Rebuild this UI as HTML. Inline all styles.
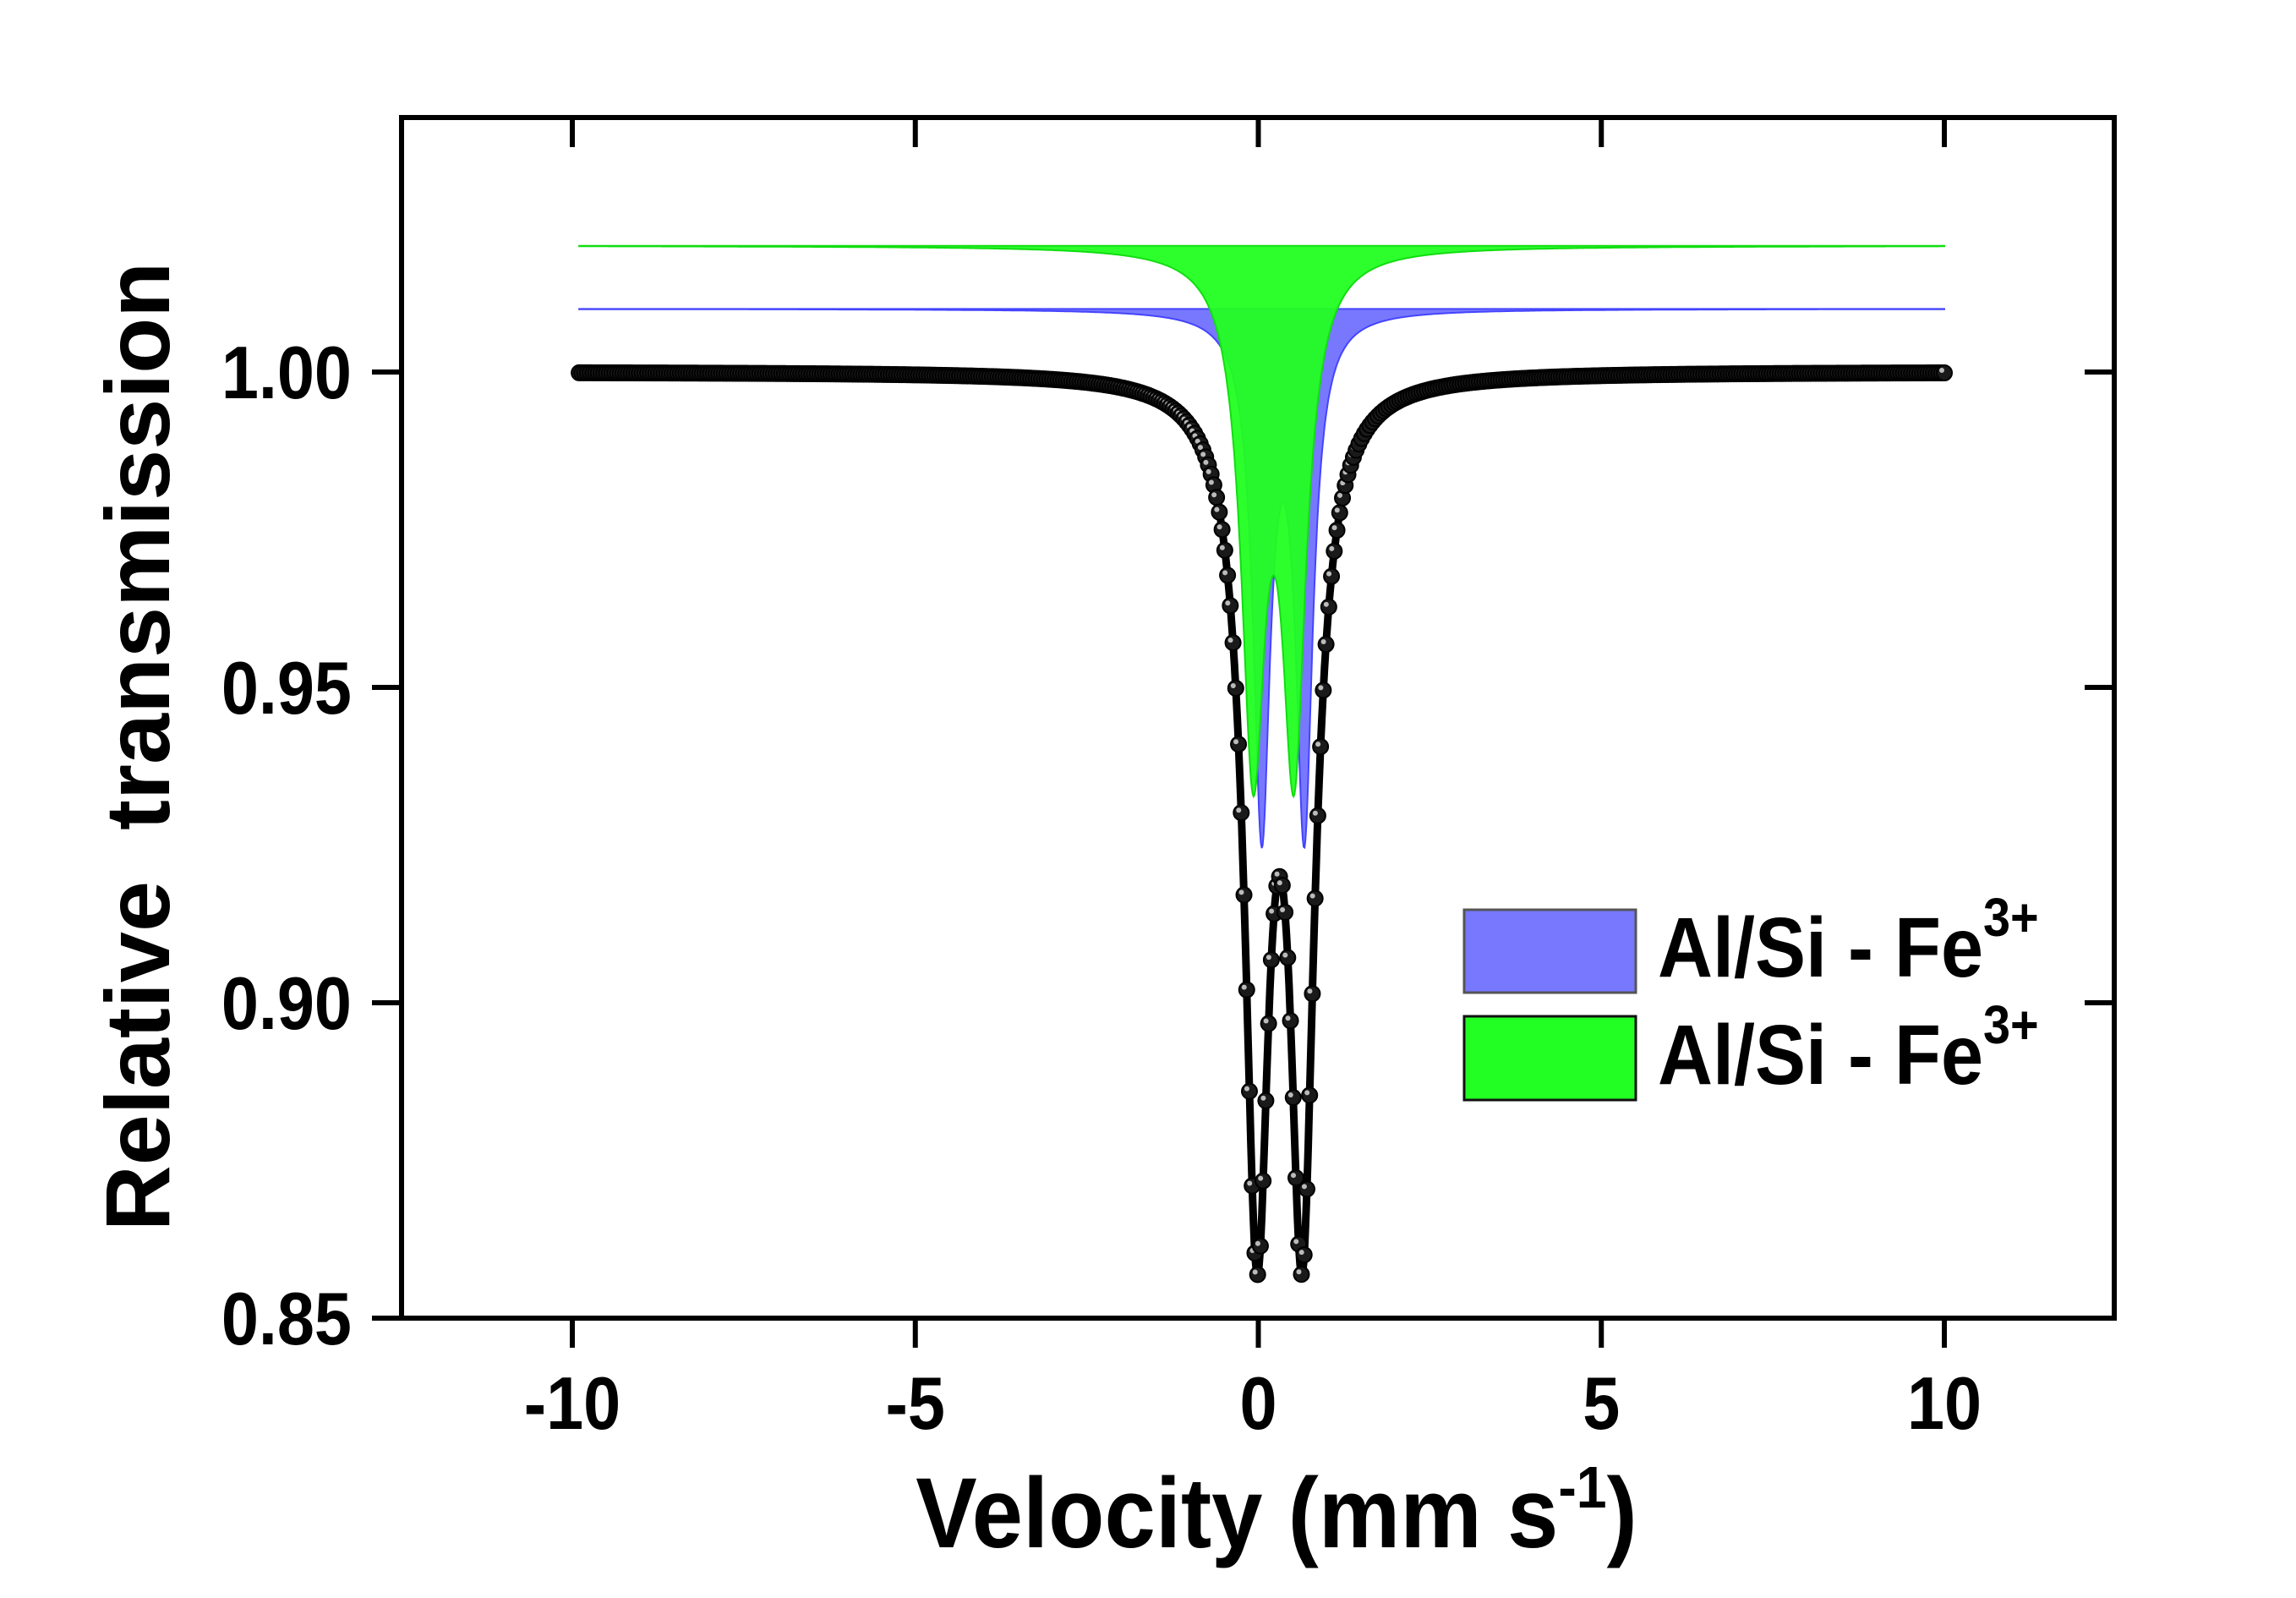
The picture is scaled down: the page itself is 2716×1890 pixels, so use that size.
<!DOCTYPE html>
<html><head><meta charset="utf-8"><style>
html,body{margin:0;padding:0;background:#fff;}
svg{display:block;}
text{font-family:"Liberation Sans",sans-serif;font-weight:bold;fill:#000;}
</style></head><body>
<svg id="chart" width="2716" height="1890" viewBox="0 0 2716 1890" xmlns="http://www.w3.org/2000/svg">
<g id="subspectra"></g>
<g id="fitg"></g>
<rect x="475" y="139" width="2026" height="1420" fill="none" stroke="#000" stroke-width="6"/>
<g id="axes"></g>
<text x="1510" y="1830" font-size="118" text-anchor="middle" transform="translate(1510 0) scale(0.92 1) translate(-1510 0)">Velocity (mm s<tspan dy="-47" font-size="70">-1</tspan><tspan dy="47">)</tspan></text>
<text x="0" y="0" font-size="108" text-anchor="middle" transform="translate(200 883) rotate(-90)" xml:space="preserve">Relative  transmission</text>
<g>
<rect x="1732" y="1076" width="203" height="98" fill="#7878ff" stroke="#555" stroke-width="3"/>
<text x="1961" y="1155" font-size="100" transform="translate(1961 0) scale(0.9 1) translate(-1961 0)">Al/Si - Fe<tspan dy="-48" font-size="64">3+</tspan></text>
<rect x="1732" y="1202" width="203" height="99" fill="#22ff22" stroke="#111" stroke-width="3"/>
<text x="1961" y="1282" font-size="100" transform="translate(1961 0) scale(0.9 1) translate(-1961 0)">Al/Si - Fe<tspan dy="-48" font-size="64">3+</tspan></text>
</g>
</svg>
<script>
const xTicks=[-10,-5,0,5,10];
const yTicks=[0.85,0.90,0.95,1.00];
const yTickLabels=["0.85","0.90","0.95","1.00"];
const fitCenters=[-0.02,0.64];
const fitDepths=[0.13,0.13];
const fitHwhm=[0.22,0.22];
const greenBase=1.02, greenCenters=[-0.075,0.52], greenDepths=[0.0785,0.0785], greenHwhm=[0.21,0.21];
const blueBase=1.01, blueCenters=[0.05,0.67], blueDepths=[0.081,0.081], blueHwhm=[0.15,0.15];
const vMin=-9.9, vMax=10.0, nChannels=500;

const NS="http://www.w3.org/2000/svg";
const X=v=>1488.5+v*81.15;
const Y=t=>440+(1.0-t)*7460;
function lor(v,c,d,w){let s=0;for(let i=0;i<c.length;i++){const u=(v-c[i])/w[i];s+=d[i]/(1+u*u);}return s;}
function mk(tag,attrs,parent){const e=document.createElementNS(NS,tag);for(const k in attrs)e.setAttribute(k,attrs[k]);parent.appendChild(e);return e;}
const sub=document.getElementById('subspectra');
function area(base,c,d,w,fill,stroke){
  let p=`M${X(vMin)},${Y(base)}`;
  for(let i=0;i<=1500;i++){const v=vMin+(vMax-vMin)*i/1500;p+=` L${X(v).toFixed(1)},${Y(base-lor(v,c,d,w)).toFixed(1)}`;}
  p+=` L${X(vMax)},${Y(base)} Z`;
  return mk('path',{d:p,fill:fill,stroke:stroke,'stroke-width':2},sub);
}
const b=area(blueBase,blueCenters,blueDepths,blueHwhm,'#7878ff','#4444ff');


const g=area(greenBase,greenCenters,greenDepths,greenHwhm,'#22ff22','#11dd11');


g.setAttribute('fill-opacity','0.95');

const fg=document.getElementById('fitg');
let fp='';
for(let i=0;i<=1500;i++){const v=vMin+(vMax-vMin)*i/1500;fp+=(i?' L':'M')+X(v).toFixed(1)+','+Y(1-lor(v,fitCenters,fitDepths,fitHwhm)).toFixed(1);}
const fl=mk('path',{d:fp,fill:'none',stroke:'#000','stroke-width':9,'stroke-linejoin':'round'},fg);


for(let i=0;i<nChannels;i++){
  const v=vMin+(vMax-vMin)*i/(nChannels-1);
  const cx=X(v),cy=Y(1-lor(v,fitCenters,fitDepths,fitHwhm));
  const c=mk('circle',{cx:cx,cy:cy,r:9,fill:'#1a1a1a',stroke:'#000','stroke-width':2},fg);
  
  
  mk('circle',{cx:cx-3,cy:cy-3,r:3,fill:'#bbb'},fg);
}
const ax=document.getElementById('axes');
xTicks.forEach(t=>{
  const x=X(t);
  const l1=mk('line',{x1:x,x2:x,y1:1559,y2:1594,stroke:'#000','stroke-width':6},ax);
  
  
  mk('line',{x1:x,x2:x,y1:139,y2:174,stroke:'#000','stroke-width':6},ax);
  const tx=mk('text',{x:x,y:1690,'font-size':88,'text-anchor':'middle',transform:`translate(${x} 0) scale(0.9 1) translate(${-x} 0)`},ax);
  tx.textContent=String(t);
  
  
});
yTicks.forEach((t,i)=>{
  const y=Y(t);
  const l1=mk('line',{x1:440,x2:475,y1:y,y2:y,stroke:'#000','stroke-width':6},ax);
  
  
  mk('line',{x1:2466,x2:2501,y1:y,y2:y,stroke:'#000','stroke-width':6},ax);
  const tx=mk('text',{x:416,y:y+31,'font-size':88,'text-anchor':'end',transform:`translate(416 0) scale(0.9 1) translate(-416 0)`},ax);
  tx.textContent=yTickLabels[i];
  
  
});
</script>
</body></html>
